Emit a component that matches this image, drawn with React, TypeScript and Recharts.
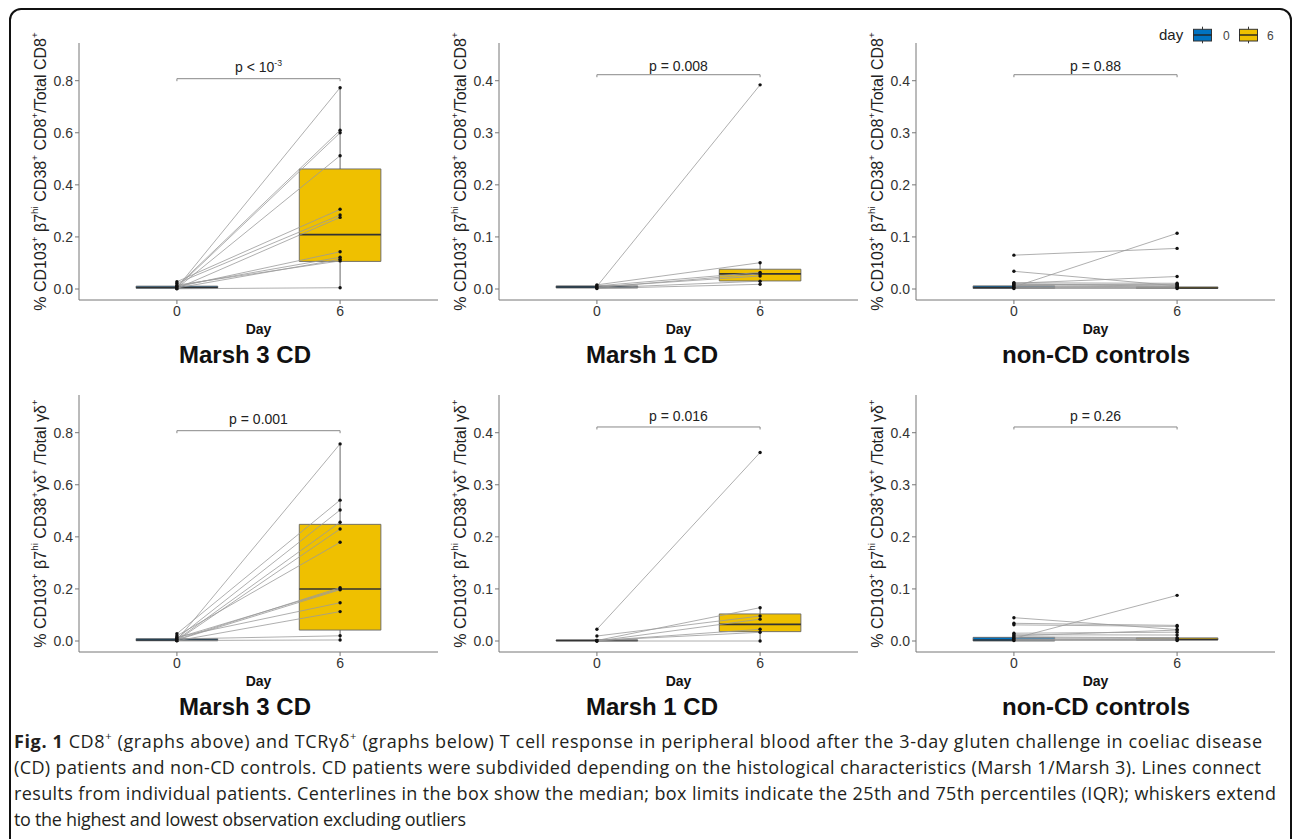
import React from "react";
import { ComposedChart, XAxis, YAxis, Scatter, ReferenceArea, ReferenceLine } from "recharts";

// x categories (days) and labels
const dayValues = [0, 6];
const dayLabels = ["0", "6"];
const legendLabels = ["0", "6"];
const dayColors = ["#0073C2", "#EFC000"];
const groupTitles = ["Marsh 3 CD", "Marsh 1 CD", "non-CD controls"];

const ticksWide = [0, 0.2, 0.4, 0.6, 0.8];
const ticksNarrow = [0, 0.1, 0.2, 0.3, 0.4];
const domainWide: [number, number] = [-0.0422, 0.9447];
const domainNarrow: [number, number] = [-0.0211, 0.4724];

// ---- CD8+ row: one value per patient, day 0 and day 6 ----
const m3Cd8Day0 = [0.005, 0.010, 0.006, 0.003, 0.028, 0.022, 0.002, 0.008, 0.012, 0.004, 0.015, 0.001];
const m3Cd8Day6 = [0.773, 0.610, 0.600, 0.512, 0.306, 0.284, 0.275, 0.143, 0.122, 0.114, 0.108, 0.005];
const m1Cd8Day0 = [0.005, 0.008, 0.006, 0.003, 0.004, 0.002, 0.001];
const m1Cd8Day6 = [0.392, 0.0505, 0.032, 0.029, 0.025, 0.015, 0.009];
const ctlCd8Day0 = [0.065, 0.034, 0.004, 0.011, 0.012, 0.008, 0.006, 0.003, 0.002, 0.001, 0.005, 0.009, 0.010];
const ctlCd8Day6 = [0.078, 0.006, 0.107, 0.024, 0.011, 0.008, 0.004, 0.002, 0.003, 0.001, 0.006, 0.009, 0.005];

// ---- TCRγδ+ row ----
const m3GdDay0 = [0.003, 0.028, 0.010, 0.005, 0.002, 0.020, 0.006, 0.012, 0.004, 0.015, 0.001, 0.008, 0.002];
const m3GdDay6 = [0.757, 0.541, 0.503, 0.456, 0.430, 0.379, 0.205, 0.200, 0.197, 0.147, 0.113, 0.020, 0.004];
const m1GdDay0 = [0.0225, 0.0096, 0.001, 0.0, 0.0005, 0.001, 0.0];
const m1GdDay6 = [0.362, 0.048, 0.064, 0.042, 0.0225, 0.0167, 0.0];
const ctlGdDay0 = [0.0448, 0.034, 0.031, 0.005, 0.015, 0.012, 0.006, 0.002, 0.004, 0.001, 0.008, 0.003, 0.010];
const ctlGdDay6 = [0.022, 0.030, 0.028, 0.0877, 0.017, 0.0115, 0.005, 0.003, 0.002, 0.001, 0.006, 0.004, 0.021];

// box stats: [lower whisker, q1, median, q3, upper whisker]
const m3Cd8Box0 = [0.001, 0.003, 0.006, 0.011, 0.028];
const m3Cd8Box6 = [0.005, 0.106, 0.209, 0.461, 0.773];
const m1Cd8Box0 = [0.0, 0.002, 0.004, 0.006, 0.008];
const m1Cd8Box6 = [0.009, 0.0155, 0.029, 0.038, 0.0505];
const ctlCd8Box0 = [0.0, 0.001, 0.003, 0.006, 0.012];
const ctlCd8Box6 = [0.0, 0.001, 0.002, 0.004, 0.008];
const m3GdBox0 = [0.0, 0.001, 0.004, 0.009, 0.028];
const m3GdBox6 = [0.0, 0.042, 0.2, 0.448, 0.757];
const m1GdBox0 = [0.0, 0.0, 0.001, 0.002, 0.004];
const m1GdBox6 = [0.0, 0.018, 0.032, 0.052, 0.064];
const ctlGdBox0 = [0.0, 0.0, 0.002, 0.007, 0.015];
const ctlGdBox6 = [0.0, 0.002, 0.003, 0.006, 0.012];

// p-value labels and bracket heights
const pLabels = ["p < 10^-3", "p = 0.008", "p = 0.88", "p = 0.001", "p = 0.016", "p = 0.26"];
const bracketY = [0.8076, 0.4115, 0.4115, 0.8076, 0.411, 0.411];

type Part = { t: string; sup?: boolean; bold?: boolean };

const cd8Title: Part[] = [
  { t: "% CD103" }, { t: "+", sup: true }, { t: " β7" }, { t: "hi", sup: true },
  { t: " CD38" }, { t: "+", sup: true }, { t: " CD8" }, { t: "+", sup: true },
  { t: "/Total CD8" }, { t: "+", sup: true },
];
const gdTitle: Part[] = [
  { t: "% CD103" }, { t: "+", sup: true }, { t: " β7" }, { t: "hi", sup: true },
  { t: " CD38" }, { t: "+", sup: true }, { t: "γδ" }, { t: "+", sup: true },
  { t: " /Total γδ" }, { t: "+", sup: true },
];

function rich(parts: Part[], size: number) {
  let up = false;
  return parts.map((p, i) => {
    let dy: number | undefined;
    if (p.sup && !up) { dy = -size * 0.42; up = true; }
    else if (!p.sup && up) { dy = size * 0.42; up = false; }
    return (
      <tspan key={i} dy={dy} fontSize={p.sup ? size * 0.62 : size} fontWeight={p.bold ? 700 : undefined}>
        {p.t}
      </tspan>
    );
  });
}

function pParts(label: string): Part[] {
  const m = label.split("^");
  return m.length > 1 ? [{ t: m[0] }, { t: m[1], sup: true }] : [{ t: label }];
}

const FONT = "'Liberation Sans', Arial, sans-serif";
const BOX_HALF = 1.5;
const AXIS_W = 60;
const PLOT_W = 359;
const CHART_W = AXIS_W + PLOT_W;
const CHART_H = 340;
const TOP = 43;

const colAxisX = [79, 499, 916];
const rowTop = [0, 352];
const titleX = [245, 652, 1096];
const pGap = [7, 3.7, 3.7, 7, 6.3, 6];

const panels = [
  { day0: m3Cd8Day0, day6: m3Cd8Day6, box0: m3Cd8Box0, box6: m3Cd8Box6, ticks: ticksWide, domain: domainWide, yTitle: cd8Title },
  { day0: m1Cd8Day0, day6: m1Cd8Day6, box0: m1Cd8Box0, box6: m1Cd8Box6, ticks: ticksNarrow, domain: domainNarrow, yTitle: cd8Title },
  { day0: ctlCd8Day0, day6: ctlCd8Day6, box0: ctlCd8Box0, box6: ctlCd8Box6, ticks: ticksNarrow, domain: domainNarrow, yTitle: cd8Title },
  { day0: m3GdDay0, day6: m3GdDay6, box0: m3GdBox0, box6: m3GdBox6, ticks: ticksWide, domain: domainWide, yTitle: gdTitle },
  { day0: m1GdDay0, day6: m1GdDay6, box0: m1GdBox0, box6: m1GdBox6, ticks: ticksNarrow, domain: domainNarrow, yTitle: gdTitle },
  { day0: ctlGdDay0, day6: ctlGdDay6, box0: ctlGdBox0, box6: ctlGdBox6, ticks: ticksNarrow, domain: domainNarrow, yTitle: gdTitle },
];

const dot = (props: any) => <circle cx={props.cx} cy={props.cy} r={1.7} fill="#111" />;

function boxParts(stats: number[], day: number, color: string, key: string) {
  return [
    <ReferenceLine key={key + "wu"} segment={[{ x: day, y: stats[3] }, { x: day, y: stats[4] }]} stroke="#555" strokeWidth={0.9} />,
    <ReferenceLine key={key + "wl"} segment={[{ x: day, y: stats[0] }, { x: day, y: stats[1] }]} stroke="#555" strokeWidth={0.9} />,
    <ReferenceArea key={key + "b"} x1={day - BOX_HALF} x2={day + BOX_HALF} y1={stats[1]} y2={stats[3]} fill={color} fillOpacity={1} stroke="#666" strokeWidth={0.9} />,
    <ReferenceLine key={key + "m"} segment={[{ x: day - BOX_HALF, y: stats[2] }, { x: day + BOX_HALF, y: stats[2] }]} stroke="#333" strokeWidth={1.6} />,
  ];
}

function Panel({ idx }: { idx: number }) {
  const cfg = panels[idx];
  const col = idx % 3;
  const row = Math.floor(idx / 3);
  const left = colAxisX[col] - AXIS_W;
  const top = rowTop[row];
  const span = cfg.domain[1] - cfg.domain[0];
  const tickLen = (span * 2.5) / (CHART_H - TOP - 40);
  const pY = bracketY[idx];
  const gap = pGap[idx];
  const label = pLabels[idx];

  const pText = (props: any) => {
    const vb = props.viewBox || {};
    const x = (vb.x ?? 0) + (vb.width ?? 0) / 2;
    const y = (vb.y ?? 0) - gap;
    return (
      <text x={x} y={y} textAnchor="middle" fill="#222" fontFamily={FONT} fontSize={14}>
        {rich(pParts(label), 14)}
      </text>
    );
  };

  return (
    <div style={{ position: "absolute", left, top, width: CHART_W, height: CHART_H }}>
      <ComposedChart width={CHART_W} height={CHART_H} margin={{ top: TOP, right: 0, bottom: 0, left: 0 }}>
        <XAxis
          type="number"
          dataKey="x"
          domain={[-3.6, 9.6]}
          ticks={dayValues}
          allowDataOverflow
          height={40}
          tickFormatter={(v: number) => dayLabels[dayValues.indexOf(v)]}
          tick={{ fontSize: 14, fill: "#333", fontFamily: FONT }}
          tickSize={4}
          axisLine={{ stroke: "#777" }}
          tickLine={{ stroke: "#777" }}
        />
        <YAxis
          type="number"
          dataKey="y"
          domain={cfg.domain}
          ticks={cfg.ticks}
          allowDataOverflow
          width={AXIS_W}
          tickFormatter={(v: number) => v.toFixed(1)}
          tick={{ fontSize: 14, fill: "#333", fontFamily: FONT }}
          tickSize={4}
          axisLine={{ stroke: "#777" }}
          tickLine={{ stroke: "#777" }}
        />
        {boxParts(cfg.box0, dayValues[0], dayColors[0], "b0")}
        {boxParts(cfg.box6, dayValues[1], dayColors[1], "b6")}
        {cfg.day0.map((v, i) => (
          <Scatter
            key={"p" + i}
            data={[{ x: dayValues[0], y: v }, { x: dayValues[1], y: cfg.day6[i] }]}
            line={{ stroke: "#9a9a9a", strokeWidth: 0.8 }}
            shape={dot}
            isAnimationActive={false}
          />
        ))}
        <ReferenceLine segment={[{ x: dayValues[0], y: pY }, { x: dayValues[1], y: pY }]} stroke="#888" strokeWidth={1} label={pText} />
        <ReferenceLine segment={[{ x: dayValues[0], y: pY }, { x: dayValues[0], y: pY - tickLen }]} stroke="#888" strokeWidth={1} />
        <ReferenceLine segment={[{ x: dayValues[1], y: pY }, { x: dayValues[1], y: pY - tickLen }]} stroke="#888" strokeWidth={1} />
      </ComposedChart>
      <svg width={CHART_W} height={CHART_H} style={{ position: "absolute", left: 0, top: 0, pointerEvents: "none" }}>
        <text
          transform={`translate(${AXIS_W - 37}, ${TOP + (CHART_H - TOP - 40) / 2}) rotate(-90)`}
          textAnchor="middle"
          dominantBaseline="middle"
          fill="#222"
          fontFamily={FONT}
          fontSize={16}
        >
          {rich(cfg.yTitle, 16)}
        </text>
        <text x={AXIS_W + PLOT_W / 2} y={334} textAnchor="middle" fontFamily={FONT} fontWeight={700} fontSize={14} fill="#111">
          Day
        </text>
      </svg>
    </div>
  );
}

const captionLines: { parts: Part[]; len: number }[] = [
  {
    parts: [
      { t: "Fig. 1", bold: true }, { t: " CD8" }, { t: "+", sup: true },
      { t: " (graphs above) and TCRγδ" }, { t: "+", sup: true },
      { t: " (graphs below) T cell response in peripheral blood after the 3-day gluten challenge in coeliac disease" },
    ],
    len: 1248,
  },
  { parts: [{ t: "(CD) patients and non-CD controls. CD patients were subdivided depending on the histological characteristics (Marsh 1/Marsh 3). Lines connect" }], len: 1247 },
  { parts: [{ t: "results from individual patients. Centerlines in the box show the median; box limits indicate the 25th and 75th percentiles (IQR); whiskers extend" }], len: 1262 },
  { parts: [{ t: "to the highest and lowest observation excluding outliers" }], len: 452 },
];

function LegendKey({ x, color }: { x: number; color: string }) {
  return (
    <g>
      <line x1={x + 9} x2={x + 9} y1={26.7} y2={43.3} stroke="#333" strokeWidth={1} />
      <rect x={x} y={29.3} width={18} height={11.7} fill={color} stroke="#333" strokeWidth={1} />
      <line x1={x} x2={x + 18} y1={35} y2={35} stroke="#222" strokeWidth={1.4} />
    </g>
  );
}

export default function App() {
  return (
    <div style={{ position: "absolute", left: 0, top: 0, width: 1292, height: 839, background: "#fff", overflow: "hidden" }}>
      <div
        style={{
          position: "absolute", left: 9, top: 8, width: 1283, height: 845,
          border: "2px solid #111", borderRadius: 12, boxSizing: "border-box",
        }}
      />
      {panels.map((_, i) => <Panel key={i} idx={i} />)}
      {[0, 1].map((r) =>
        groupTitles.map((t, c) => (
          <div
            key={r + "-" + c}
            style={{
              position: "absolute", left: titleX[c] - 150, width: 300, top: rowTop[r] + 340,
              textAlign: "center", fontFamily: FONT, fontWeight: 700, fontSize: 24, color: "#111", lineHeight: "30px",
            }}
          >
            {t}
          </div>
        ))
      )}
      <svg width={1292} height={60} style={{ position: "absolute", left: 0, top: 0 }}>
        <text x={1159} y={40} fontFamily={FONT} fontSize={15} fill="#222">day</text>
        <LegendKey x={1193.5} color={dayColors[0]} />
        <text x={1223} y={39.5} fontFamily={FONT} fontSize={12} fill="#444">{legendLabels[0]}</text>
        <LegendKey x={1239.5} color={dayColors[1]} />
        <text x={1267} y={39.5} fontFamily={FONT} fontSize={12} fill="#444">{legendLabels[1]}</text>
      </svg>
      <svg width={1292} height={114} style={{ position: "absolute", left: 0, top: 725 }}>
        {captionLines.map((ln, i) => (
          <text
            key={i}
            x={14}
            y={23 + i * 26}
            textLength={ln.len}
            lengthAdjust="spacing"
            fontFamily="'Open Sans', sans-serif"
            fontSize={18}
            fill="#231f20"
          >
            {rich(ln.parts, 18)}
          </text>
        ))}
      </svg>
    </div>
  );
}
